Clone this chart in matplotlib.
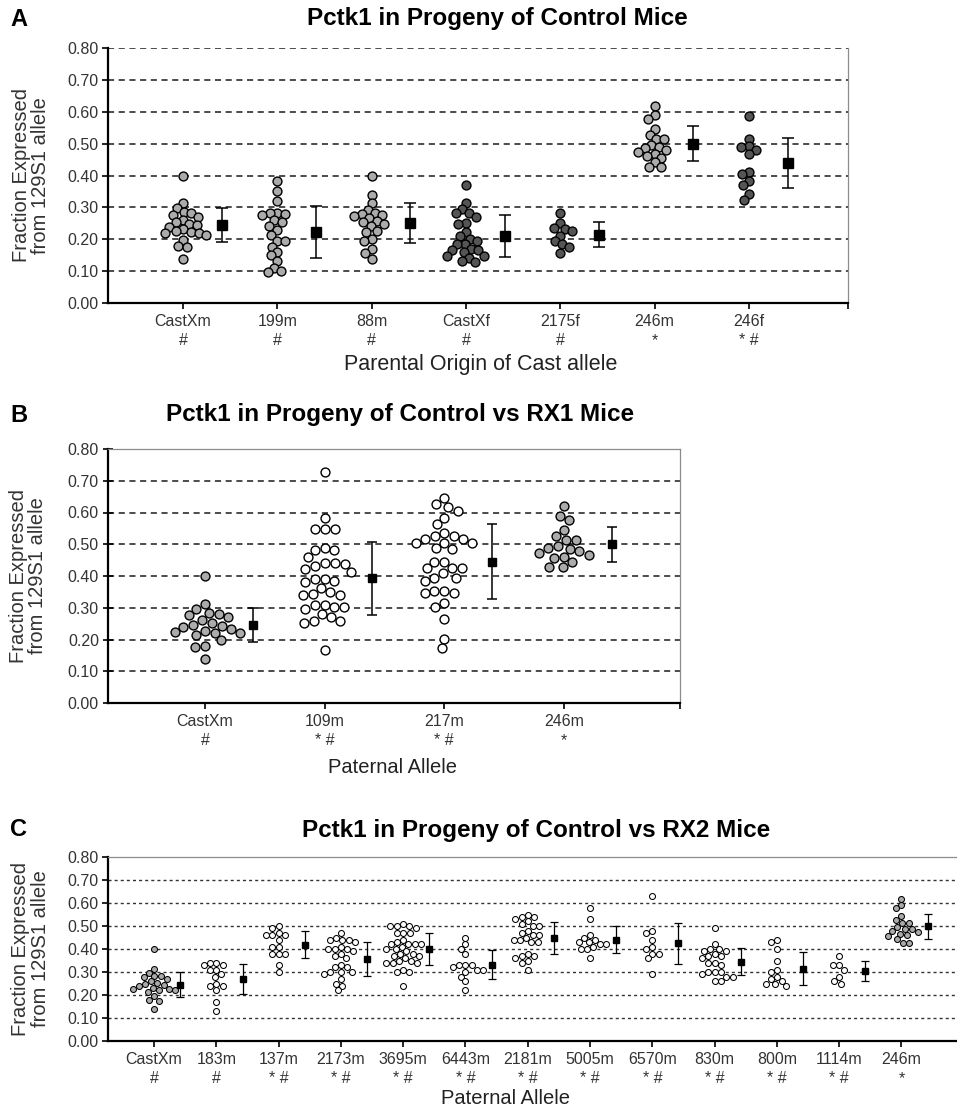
import numpy as np
from matplotlib import pyplot as plt

plt.rcParams['font.family'] = ['Liberation Sans', 'DejaVu Sans']

# fraction expressed from the 129S1 allele, one list per group of progeny
castxm = [0.40, 0.313, 0.297, 0.284, 0.281, 0.277, 0.27, 0.26, 0.253, 0.247,
          0.244, 0.24, 0.232, 0.226, 0.224, 0.221, 0.221, 0.214, 0.197, 0.179,
          0.176, 0.139]
m199 = [0.382, 0.35, 0.319, 0.282, 0.282, 0.279, 0.276, 0.26, 0.253, 0.242,
        0.228, 0.214, 0.193, 0.193, 0.177, 0.161, 0.15, 0.132, 0.11, 0.10, 0.098]
m88 = [0.40, 0.339, 0.313, 0.292, 0.281, 0.279, 0.277, 0.274, 0.266, 0.258,
       0.253, 0.247, 0.242, 0.226, 0.224, 0.20, 0.195, 0.168, 0.158, 0.137]
castxf = [0.369, 0.315, 0.294, 0.283, 0.283, 0.271, 0.25, 0.247, 0.223, 0.21,
          0.202, 0.194, 0.184, 0.184, 0.17, 0.166, 0.166, 0.16, 0.149, 0.149,
          0.142, 0.131, 0.128]
f2175 = [0.283, 0.25, 0.236, 0.231, 0.226, 0.21, 0.194, 0.184, 0.176, 0.158]
m246 = [0.619, 0.59, 0.577, 0.545, 0.527, 0.514, 0.514, 0.495, 0.488, 0.485,
        0.48, 0.474, 0.467, 0.46, 0.456, 0.443, 0.428, 0.428]
f246 = [0.587, 0.516, 0.491, 0.488, 0.48, 0.467, 0.411, 0.404, 0.383, 0.369,
        0.341, 0.323]

m109 = [0.729, 0.582, 0.549, 0.549, 0.549, 0.488, 0.481, 0.481, 0.459, 0.44,
        0.44, 0.438, 0.43, 0.422, 0.413, 0.391, 0.391, 0.385, 0.381, 0.362,
        0.35, 0.343, 0.341, 0.341, 0.31, 0.308, 0.301, 0.301, 0.297, 0.28,
        0.27, 0.259, 0.257, 0.252, 0.168]
m217 = [0.645, 0.626, 0.616, 0.605, 0.584, 0.564, 0.537, 0.526, 0.526, 0.516,
        0.516, 0.505, 0.505, 0.503, 0.487, 0.484, 0.445, 0.445, 0.424, 0.424,
        0.424, 0.41, 0.395, 0.395, 0.384, 0.353, 0.353, 0.347, 0.345, 0.316,
        0.303, 0.263, 0.203, 0.172]

m183 = [0.34, 0.34, 0.33, 0.33, 0.31, 0.31, 0.29, 0.28, 0.25, 0.24, 0.24,
        0.22, 0.17, 0.13]
m137 = [0.50, 0.49, 0.47, 0.46, 0.46, 0.46, 0.44, 0.41, 0.41, 0.38, 0.38,
        0.38, 0.33, 0.30]
m2173 = [0.47, 0.45, 0.44, 0.44, 0.44, 0.43, 0.41, 0.40, 0.40, 0.40, 0.39,
         0.38, 0.37, 0.36, 0.33, 0.32, 0.32, 0.30, 0.30, 0.30, 0.29, 0.27,
         0.25, 0.24, 0.22]
m3695 = [0.51, 0.50, 0.50, 0.50, 0.49, 0.47, 0.47, 0.47, 0.44, 0.43, 0.42,
         0.42, 0.42, 0.42, 0.41, 0.40, 0.40, 0.39, 0.38, 0.38, 0.37, 0.37,
         0.36, 0.35, 0.35, 0.34, 0.34, 0.34, 0.31, 0.30, 0.30, 0.24]
m6443 = [0.45, 0.42, 0.40, 0.38, 0.33, 0.33, 0.33, 0.32, 0.31, 0.31, 0.30,
         0.28, 0.26, 0.22]
m2181 = [0.55, 0.54, 0.54, 0.53, 0.52, 0.51, 0.50, 0.50, 0.48, 0.47, 0.46,
         0.46, 0.45, 0.44, 0.44, 0.43, 0.43, 0.38, 0.37, 0.37, 0.36, 0.35,
         0.34, 0.31]
m5005 = [0.58, 0.53, 0.46, 0.45, 0.44, 0.43, 0.43, 0.42, 0.42, 0.41, 0.40,
         0.40, 0.36]
m6570 = [0.63, 0.48, 0.47, 0.44, 0.41, 0.40, 0.38, 0.38, 0.36, 0.29]
m830 = [0.49, 0.42, 0.40, 0.40, 0.39, 0.39, 0.38, 0.37, 0.37, 0.36, 0.34,
        0.34, 0.33, 0.30, 0.30, 0.30, 0.29, 0.28, 0.28, 0.26, 0.26]
m800 = [0.44, 0.43, 0.40, 0.35, 0.31, 0.30, 0.28, 0.27, 0.26, 0.25, 0.25, 0.24]
m1114 = [0.37, 0.33, 0.33, 0.31, 0.28, 0.26, 0.25]

labels_a = ['CastXm', '199m', '88m', 'CastXf', '2175f', '246m', '246f']
marks_a = ['#', '#', '#', '#', '#', '*', '* #']
labels_b = ['CastXm', '109m', '217m', '246m']
marks_b = ['#', '* #', '* #', '*']
labels_c = ['CastXm', '183m', '137m', '2173m', '3695m', '6443m', '2181m',
            '5005m', '6570m', '830m', '800m', '1114m', '246m']
marks_c = ['#', '#'] + ['* #'] * 10 + ['*']

LIGHT = '#ababab'
DARK = '#555555'
OPEN = 'white'

W, H = 957, 1109
fig = plt.figure(figsize=(W / 100, H / 100), dpi=100)


def add_axes_px(left, top, right, bottom):
    return fig.add_axes([left / W, 1 - bottom / H, (right - left) / W, (bottom - top) / H])


def swarm_offsets(ax, vals, gap_px):
    """Beeswarm: push each point sideways (in pixels) until it clears the others."""
    pts = ax.transData.transform(np.column_stack([np.zeros(len(vals)), vals]))
    ys = pts[:, 1]
    unit_px = ax.transData.transform((1, 0))[0] - ax.transData.transform((0, 0))[0]
    xs = np.zeros(len(vals))
    placed = []
    for i in np.argsort(-ys, kind='stable'):
        spans = []
        cands = [0.0]
        for j in placed:
            dy = abs(ys[j] - ys[i])
            if dy < gap_px:
                dx = np.sqrt(gap_px ** 2 - dy ** 2)
                spans.append((xs[j] - dx, xs[j] + dx))
                cands += [xs[j] - dx, xs[j] + dx]
        for c in sorted(cands, key=abs):
            if all(not (lo + 1e-6 < c < hi - 1e-6) for lo, hi in spans):
                xs[i] = c
                break
        placed.append(i)
    return xs / unit_px


def panel(ax, groups, fills, labels, marks, xlim, st):
    ax.set_xlim(*xlim)
    ax.set_ylim(0, 0.8)
    ax.hlines(st['grid'], xlim[0], xlim[1], colors=st['gc'], lw=st['glw'],
              linestyles=[(0, st['dash'])], zorder=1)
    for i, (vals, fc) in enumerate(zip(groups, fills)):
        vals = np.asarray(vals)
        dx = swarm_offsets(ax, vals, st['gap'])
        ax.plot(i + dx, vals, 'o', ms=st['ms'], mfc=fc, mec='black',
                mew=st['mew'], ls='none', zorder=3, clip_on=False)
        ax.errorbar(i + st['off'], vals.mean(), yerr=vals.std(ddof=1), fmt='s',
                    color='black', ms=st['sq'], capsize=st['cap'],
                    elinewidth=st['elw'], capthick=st['elw'], zorder=4)

    ticks = list(range(len(groups)))
    names = [f'{n}\n{m}' for n, m in zip(labels, marks)]
    if st['end_tick']:
        ticks.append(xlim[1])
        names.append('')
    ax.set_xticks(ticks)
    ax.set_xticklabels(names, linespacing=1.35)
    yt = np.arange(0, 0.81, 0.1)
    ax.set_yticks(yt)
    ax.set_yticklabels(['%.2f' % v for v in yt])
    ax.tick_params(axis='both', labelsize=11.5, labelcolor='#333333',
                   width=1.2, length=4, color='black')
    ax.tick_params(axis='x', pad=4)
    ax.tick_params(axis='y', direction=st['ydir'], length=st['ylen'], pad=3)

    for side in ('left', 'bottom'):
        ax.spines[side].set_linewidth(1.6)
        ax.spines[side].set_color('black')
    for side in ('top', 'right'):
        ax.spines[side].set_linewidth(0.9)
        ax.spines[side].set_color('#8c8c8c')
    for side in st['hide']:
        ax.spines[side].set_visible(False)

    ax.set_ylabel('Fraction Expressed\nfrom 129S1 allele', fontsize=14.5,
                  color='#333333', linespacing=1.05, va='center')
    ax.yaxis.set_label_coords(st['ylab_x'], 0.5)
    ax.set_xlabel(st['xlabel'], fontsize=st['xlab_fs'], color='#222222', va='center')
    ax.xaxis.set_label_coords(*st['xlab_pos'])


def heading(letter, title, y, title_x):
    fig.text(10 / W, 1 - y / H, letter, fontsize=17, fontweight='bold', va='center')
    fig.text(title_x / W, 1 - y / H, title, fontsize=17.5, fontweight='bold',
             ha='center', va='center')


# panel A
axA = add_axes_px(108, 48, 848, 303)
panel(axA, [castxm, m199, m88, castxf, f2175, m246, f246],
      [LIGHT, LIGHT, LIGHT, DARK, DARK, LIGHT, DARK], labels_a, marks_a,
      (-0.795, 7.05),
      dict(grid=np.arange(0.1, 0.81, 0.1), gc='#1a1a1a', glw=1.1, dash=(4, 3),
           gap=7.6, ms=6.4, mew=1.0, sq=7.0, cap=4.5, elw=1.1, off=0.41,
           end_tick=True, ydir='out', ylen=4, hide=('top',),
           ylab_x=-0.104, xlabel='Parental Origin of Cast allele', xlab_fs=15.5,
           xlab_pos=(0.504, -0.24)))
heading('A', 'Pctk1 in Progeny of Control Mice', 19, 497)

# panel B
axB = add_axes_px(108, 449, 680, 703)
panel(axB, [castxm, m109, m217, m246], [LIGHT, OPEN, OPEN, LIGHT],
      labels_b, marks_b, (-0.81, 3.97),
      dict(grid=np.arange(0.1, 0.71, 0.1), gc='#1a1a1a', glw=1.1, dash=(4, 3),
           gap=10.0, ms=6.4, mew=1.0, sq=6.0, cap=3.8, elw=1.1, off=0.40,
           end_tick=True, ydir='inout', ylen=7, hide=(),
           ylab_x=-0.14, xlabel='Paternal Allele', xlab_fs=14.5,
           xlab_pos=(0.497, -0.255)))
heading('B', 'Pctk1 in Progeny of Control vs RX1 Mice', 415, 400)

# panel C
axC = add_axes_px(108, 857, 960, 1041)
panel(axC, [castxm, m183, m137, m2173, m3695, m6443, m2181, m5005, m6570,
            m830, m800, m1114, m246],
      [LIGHT] + [OPEN] * 11 + [LIGHT], labels_c, marks_c, (-0.74, 12.94),
      dict(grid=np.arange(0.1, 0.71, 0.1), gc='#333333', glw=1.0, dash=(2.2, 2.2),
           gap=6.6, ms=4.3, mew=0.75, sq=4.5, cap=2.8, elw=0.9, off=0.42,
           end_tick=False, ydir='out', ylen=4, hide=('right',),
           ylab_x=-0.0907, xlabel='Paternal Allele', xlab_fs=14.5,
           xlab_pos=(0.466, -0.31)))
heading('C', 'Pctk1 in Progeny of Control vs RX2 Mice', 830, 536)

fig.savefig('out.png', dpi=100)
